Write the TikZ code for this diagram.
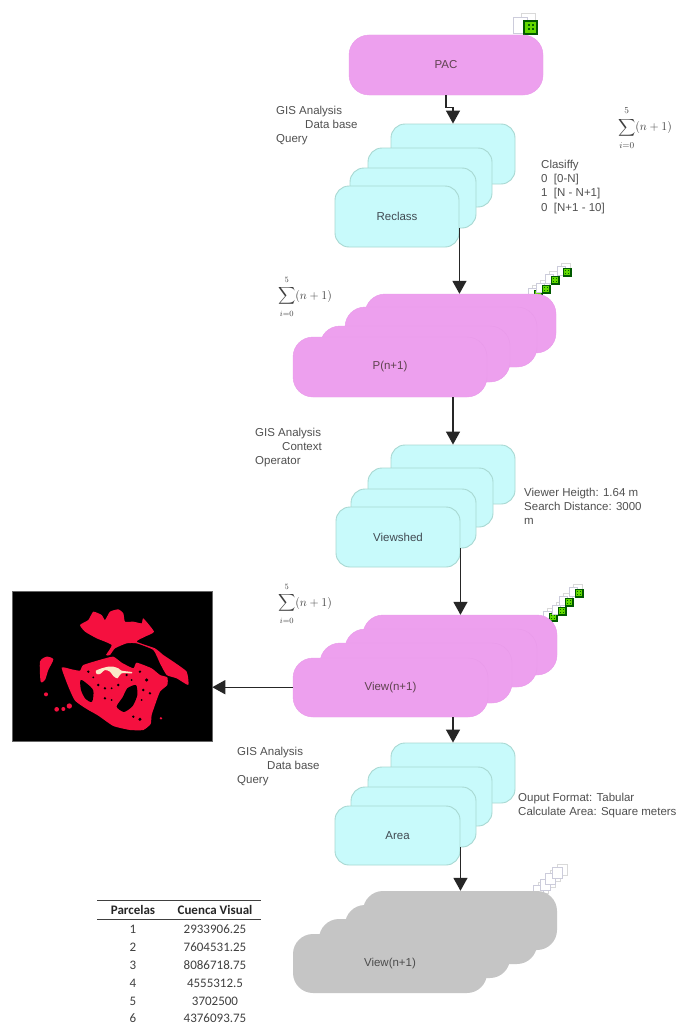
\documentclass[tikz,border=0pt]{standalone}
\usepackage{fontspec}
\usepackage{amsmath}
\setmainfont{Liberation Sans}
\newfontfamily\tablefont{Carlito}
\usetikzlibrary{arrows.meta}
\definecolor{magentabox}{HTML}{EDA0EE}
\definecolor{magentaline}{HTML}{E99BEA}
\definecolor{cyanbox}{HTML}{C8FAFB}
\definecolor{cyanline}{HTML}{A8D8D2}
\definecolor{greybox}{HTML}{C5C5C5}
\definecolor{notegrey}{HTML}{505050}
\definecolor{crimson}{HTML}{F5103F}
\definecolor{corecream}{HTML}{FBE8C8}
\tikzset{
  magbox/.style={rounded corners=20pt,fill=magentabox,draw=magentaline,line width=0.4pt,inner sep=0pt,text=black!60!magenta!70!black,font=\fontsize{11.5}{14}\selectfont},
  cyabox/.style={rounded corners=14pt,fill=cyanbox,draw=cyanline,line width=0.9pt,inner sep=0pt,text=black!55!cyan!50!black,font=\fontsize{11.5}{14}\selectfont},
  grybox/.style={rounded corners=20pt,fill=greybox,draw=none,inner sep=0pt,text=black!70,font=\fontsize{11.5}{14}\selectfont},
  flow/.style={draw=black!85,line width=1.4pt,-{Triangle[width=14pt,length=13pt]}},
  note/.style={align=left,anchor=north west,inner sep=0pt,text=notegrey,font=\fontsize{11.5}{14.2}\selectfont},
  sumnote/.style={inner sep=0pt,text=black!75},
  tcell/.style={inner sep=0pt,text=black!75,font=\tablefont\fontsize{13}{15}\selectfont},
  thead/.style={inner sep=0pt,text=black!85,font=\tablefont\bfseries\fontsize{13}{15}\selectfont},
  trule/.style={draw=black!75,line width=0.9pt},
  redblob/.style={fill=crimson,draw=none},
  hole/.style={fill=black,draw=none}
}
\newcommand{\stackbox}[7]{%
  \pgfmathsetmacro{\bxc}{(#3+#5)/2}%
  \pgfmathsetmacro{\byc}{(#4+#6)/2}%
  \pgfmathsetmacro{\bxw}{#5-#3}%
  \pgfmathsetmacro{\byh}{#6-#4}%
  \node[#1,minimum width=\bxw pt,minimum height=\byh pt] (#2) at (\bxc,\byc) {#7};%
}
\newcommand{\docs}[3]{%
  \begin{scope}[shift={(#1,#2)},scale=#3]
    \draw[fill=white,draw=black!15,line width=0.6pt] (-9,-14) rectangle (5,2);
    \draw[fill=white,draw=blue!30!black!20,line width=0.6pt] (-17,-10) rectangle (-3,6);
  \end{scope}%
}
\newcommand{\greendoc}[3]{%
  \docs{#1}{#2}{#3}%
  \begin{scope}[shift={(#1,#2)},scale=#3]
    \fill[fill=black!65!green] (-7.5,-7.5) rectangle (7.5,7.5);
    \fill[fill=green!55!yellow!85!black] (-5.5,-5.5) rectangle (5.5,5.5);
    \foreach \ga in {-3,1} \foreach \gb in {-3,1}
      \fill[fill=black!60!green] (\ga,\gb) rectangle ++(2,2);
  \end{scope}%
}
\newcommand{\sumformula}{$\displaystyle\sum_{\rule{0pt}{9pt}i=0}^{5\rule[-3pt]{0pt}{0pt}}(n+1)$}
\begin{document}
\begin{tikzpicture}[x=1pt,y=-1pt]
\useasboundingbox (0,0) rectangle (680,1025);
\fill[white] (0,0) rectangle (680,1025);

% icons behind boxes
\greendoc{530.5}{27.5}{1}
\greendoc{538}{294}{0.6}
\greendoc{546}{289}{0.6}
\greendoc{555}{280}{0.6}
\greendoc{567}{272}{0.6}
\greendoc{553}{617}{0.6}
\greendoc{562}{611}{0.6}
\greendoc{569}{602}{0.6}
\greendoc{579}{593}{0.6}
\docs{545}{892}{0.7}
\docs{552}{886}{0.7}
\docs{557}{880}{0.7}
\docs{564}{874}{0.7}

% PAC
\stackbox{magbox}{pac}{349}{35}{543}{95}{PAC}
% Reclass
\stackbox{cyabox}{ra}{391}{124}{515}{184}{}
\stackbox{cyabox}{rb}{368}{148}{492}{207}{}
\stackbox{cyabox}{rc}{350}{168}{476}{228}{}
\stackbox{cyabox}{rd}{335}{186}{459}{247}{Reclass}
% P(n+1)
\stackbox{magbox}{pa}{365}{294}{556}{353}{}
\stackbox{magbox}{pb}{345}{307}{537}{367}{}
\stackbox{magbox}{pc}{320}{326}{510}{382}{}
\stackbox{magbox}{pd}{293}{337}{487}{397}{P(n+1)}
% Viewshed
\stackbox{cyabox}{va}{391}{445}{515}{504}{}
\stackbox{cyabox}{vb}{368}{468}{493}{527}{}
\stackbox{cyabox}{vc}{351}{489}{476}{548}{}
\stackbox{cyabox}{vd}{336}{507}{460}{567}{Viewshed}
% View(n+1)
\stackbox{magbox}{wa}{363}{615}{557}{675}{}
\stackbox{magbox}{wb}{345}{629}{537}{687}{}
\stackbox{magbox}{wc}{320}{643}{512}{703}{}
\stackbox{magbox}{wd}{293}{658}{488}{717}{View(n+1)}
% Area
\stackbox{cyabox}{aa}{391}{743}{515}{803}{}
\stackbox{cyabox}{ab}{368}{767}{492}{826}{}
\stackbox{cyabox}{ac}{351}{787}{476}{847}{}
\stackbox{cyabox}{ad}{335}{806}{460}{865}{Area}
% grey
\stackbox{grybox}{ga}{363}{891}{557}{950}{}
\stackbox{grybox}{gb}{345}{905}{537}{964}{}
\stackbox{grybox}{gc}{319}{919}{510}{978}{}
\stackbox{grybox}{gd}{293}{934}{487}{993}{View(n+1)}

% picture
\node[fill=black,draw=black!60,line width=0.5pt,inner sep=0pt,minimum width=200pt,minimum height=150pt] (img) at (112,666) {};
\begin{scope}[shift={(30,600)},scale=0.3333]
  \fill[redblob] plot[smooth cycle,tension=0.3] coordinates {(150,75)(175,60)(190,35)(215,45)(225,60)(240,35)(265,28)(280,40)(285,65)(310,65)(335,70)(340,55)(372,95)(345,110)(320,125)(375,145)(400,165)(430,185)(470,215)(475,255)(440,235)(410,225)(390,190)(370,150)(320,130)(290,130)(255,145)(240,165)(228,165)(245,135)(200,115)(165,95)};
  \fill[redblob] plot[smooth cycle,tension=0.4] coordinates {(30,185)(50,170)(70,178)(55,210)(45,240)(32,245)};
  \fill[redblob] plot[smooth cycle,tension=0.3] coordinates {(95,203)(125,208)(150,212)(160,195)(215,178)(250,170)(275,188)(310,205)(320,188)(365,205)(390,225)(412,232)(412,255)(390,275)(375,315)(365,345)(362,372)(340,390)(300,390)(250,378)(205,347)(170,327)(135,302)(115,260)};
  \fill[redblob] (48,283) circle (6);
  \fill[redblob] (80,328) circle (7);
  \fill[redblob] (100,327) circle (6);
  \fill[redblob] (118,318) circle (8);
  \fill[redblob] (393,355) circle (4);
  \fill[hole] plot[smooth cycle,tension=0.5] coordinates {(152,240)(172,252)(190,272)(186,305)(167,297)(153,270)};
  \fill[hole] plot[smooth cycle,tension=0.4] coordinates {(292,265)(318,255)(322,285)(308,318)(282,336)(260,320)(278,292)};
  \foreach \hx/\hy/\hr in {175/215/4,205/255/4,225/265/4,245/265/3,265/255/4,225/295/4,245/300/3,330/215/4,350/240/5,340/270/4,360/280/4,335/300/3,310/350/4,330/358/5,290/225/4,305/240/3,190/232/3}
    \fill[hole] (\hx,\hy) circle (\hr);
  \fill[corecream] plot[smooth cycle,tension=0.4] coordinates {(198,212)(215,205)(235,200)(250,200)(265,205)(275,212)(305,216)(305,220)(275,220)(262,235)(250,228)(240,215)(225,210)(210,222)(200,222)};
\end{scope}

% connectors
\draw[flow] (pac.south) -- ++(0,12) -| (ra.north);
\draw[flow] (rd.east |- rc.south) -- (rd.east |- pa.north);
\draw[flow] (va.north |- pd.south) -- (va.north);
\draw[flow] (vd.east |- vc.south) -- (vd.east |- wa.north);
\draw[flow] (aa.north |- wd.south) -- (aa.north);
\draw[flow] (ad.east |- ac.south) -- (ad.east |- ga.north);
\draw[flow] (wd.west |- wb.south) -- (img.east |- wb.south);

% notes
\node[note] (n1) at (276,106) {GIS Analysis\\\hspace*{29pt}Data base\\Query};
\node[note] (n2) at (541,160) {Clasiffy\\0\ \ [0-N]\\1\ \ [N - N+1]\\0\ \ [N+1 - 10]};
\node[note] (n3) at (255,428) {GIS Analysis\\\hspace*{27pt}Context\\Operator};
\node[note] (n4) at (524,488) {Viewer Heigth: 1.64 m\\Search Distance: 3000\\m};
\node[note] (n5) at (237,747) {GIS Analysis\\\hspace*{30pt}Data base\\Query};
\node[note] (n6) at (518,793) {Ouput Format: Tabular\\Calculate Area: Square meters};

% sums
\node[sumnote,font=\fontsize{13}{16}\selectfont] (s1) at (645,128) {\sumformula};
\node[sumnote,font=\fontsize{12}{15}\selectfont] (s2) at (305,297) {\sumformula};
\node[sumnote,font=\fontsize{12}{15}\selectfont] (s3) at (305,604) {\sumformula};

% table
\coordinate (tl1) at (97,900);
\coordinate (tr1) at (261,900);
\coordinate (tl2) at (97,919);
\coordinate (tr2) at (261,919);
\draw[trule] (tl1) -- (tr1);
\draw[trule] (tl2) -- (tr2);
\node[thead] (h1) at (133,910) {Parcelas};
\node[thead] (h2) at (215,910) {Cuenca Visual};
\node[tcell] (c1) at (133,929) {1};
\node[tcell] (d1) at (215,929) {2933906.25};
\node[tcell] (c2) at (133,947) {2};
\node[tcell] (d2) at (215,947) {7604531.25};
\node[tcell] (c3) at (133,965) {3};
\node[tcell] (d3) at (215,965) {8086718.75};
\node[tcell] (c4) at (133,983) {4};
\node[tcell] (d4) at (215,983) {4555312.5};
\node[tcell] (c5) at (133,1001) {5};
\node[tcell] (d5) at (215,1001) {3702500};
\node[tcell] (c6) at (133,1018) {6};
\node[tcell] (d6) at (215,1018) {4376093.75};
\end{tikzpicture}
\end{document}
